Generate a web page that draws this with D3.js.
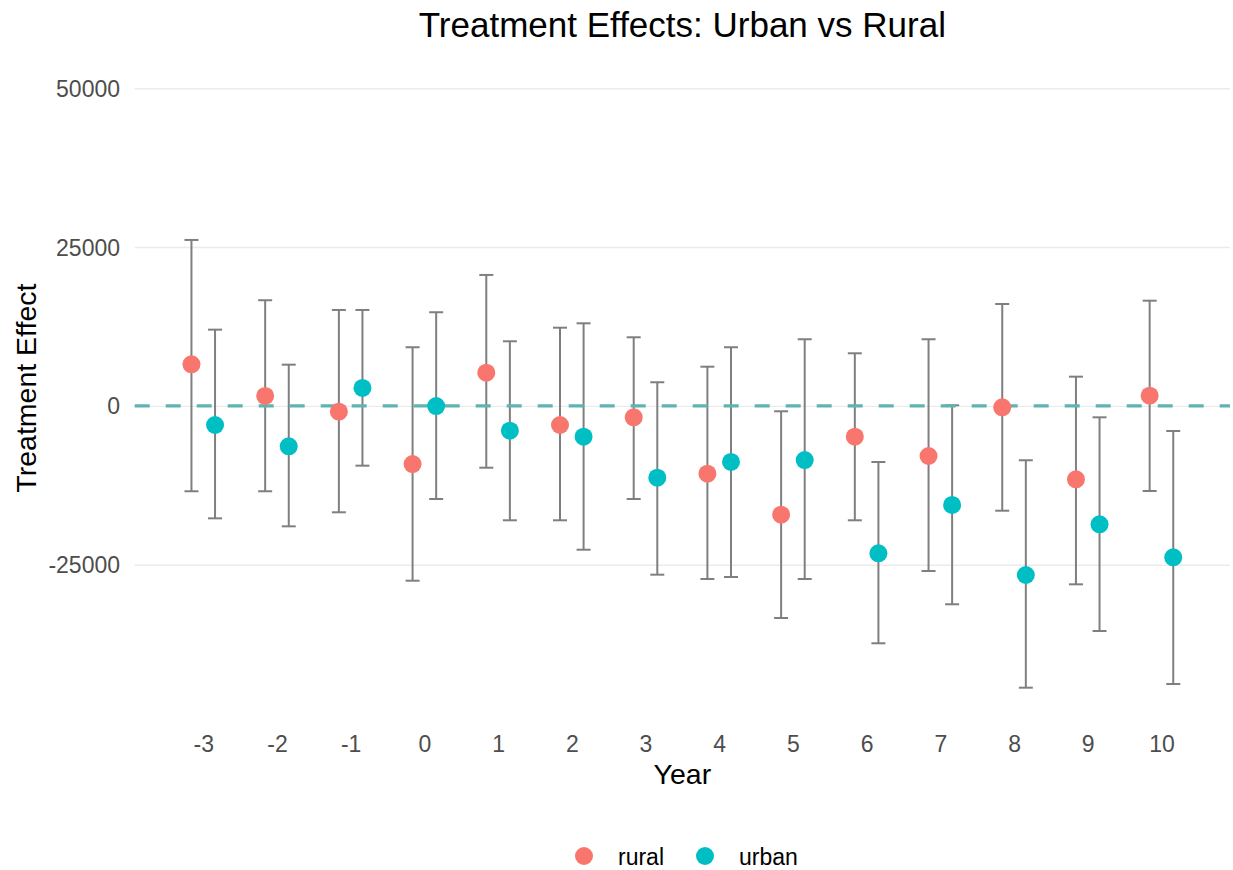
<!DOCTYPE html>
<html>
<head>
<meta charset="utf-8">
<script src="https://cdn.jsdelivr.net/npm/d3@7"></script>
<style>
  html, body { margin: 0; padding: 0; background: #ffffff; }
  svg { display: block; font-family: "Liberation Sans", Arial, sans-serif; }
</style>
</head>
<body>
<svg id="chart" width="1233" height="870"></svg>
<script>
// Event-study estimates by year, with 95% confidence bounds
const years = [-3, -2, -1, 0, 1, 2, 3, 4, 5, 6, 7, 8, 9, 10];

const ruralEst = [6550, 1560, -910, -9150, 5230, -3010, -1800, -10670, -17130, -4850, -7890, -220, -11560, 1610];
const ruralLo  = [-13440, -13440, -16750, -27520, -9730, -18010, -14660, -27250, -33390, -18010, -25990, -16500, -28090, -13400];
const ruralHi  = [26120, 16630, 15100, 9230, 20610, 12310, 10800, 6170, -850, 8280, 10490, 16040, 4600, 16560];

const urbanEst = [-3010, -6360, 2820, -20, -3900, -4850, -11300, -8830, -8520, -23210, -15600, -26620, -18640, -23840];
const urbanLo  = [-17700, -18960, -9410, -14660, -18010, -22640, -26570, -26940, -27250, -37370, -31230, -44360, -35440, -43780];
const urbanHi  = [12000, 6490, 15100, 14740, 10170, 13000, 3720, 9230, 10490, -8830, 90, -8560, -1800, -3950];

const seriesNames = ["rural", "urban"];
const seriesColors = ["#F8766D", "#00BFC4"];

const yTicks = [-25000, 0, 25000, 50000];
const yDomain = [-49100, 54700];
const xDomain = [-3.93, 10.93];

// layout
const panel = { left: 134.7, right: 1230, top: 58.4, bottom: 717.8 };
const dodge = 0.16;      // horizontal offset of each group from the year
const capHalf = 0.095;   // half width of error-bar caps, in year units
const pointR = 9;

// plain hyphen-minus labels
const plainNum = d => String(d);

const svg = d3.select("#chart");

const x = d3.scaleLinear().domain(xDomain).range([panel.left, panel.right]);
const y = d3.scaleLinear().domain(yDomain).range([panel.bottom, panel.top]);

// gridlines (horizontal only)
const yAxis = d3.axisLeft(y).tickValues(yTicks).tickFormat(plainNum)
  .tickSize(-(panel.right - panel.left)).tickPadding(14);
const gy = svg.append("g").attr("transform", `translate(${panel.left},0)`).call(yAxis);
gy.select(".domain").remove();
gy.selectAll(".tick line").attr("stroke", "#EBEBEB").attr("stroke-width", 1.4);
gy.selectAll(".tick text")
  .attr("fill", "#4D4D4D").attr("font-size", 23).attr("x", 120 - panel.left)
  .attr("text-anchor", "end").attr("dy", "0.35em");

// x axis labels
const xAxis = d3.axisBottom(x).tickValues(years).tickFormat(plainNum).tickSize(0).tickPadding(0);
const gx = svg.append("g").attr("transform", `translate(0,${panel.bottom})`).call(xAxis);
gx.select(".domain").remove();
gx.selectAll(".tick line").remove();
gx.selectAll(".tick text")
  .attr("fill", "#4D4D4D").attr("font-size", 23).attr("y", 34).attr("dy", 0);

// assemble records per series
const series = [
  { name: seriesNames[0], color: seriesColors[0], off: -dodge,
    rows: years.map((yr, i) => ({ yr, est: ruralEst[i], lo: ruralLo[i], hi: ruralHi[i] })) },
  { name: seriesNames[1], color: seriesColors[1], off: dodge,
    rows: years.map((yr, i) => ({ yr, est: urbanEst[i], lo: urbanLo[i], hi: urbanHi[i] })) }
];

// error bars
const eb = svg.append("g").attr("stroke", "#7F7F7F").attr("stroke-width", 2).attr("fill", "none");
series.forEach(s => {
  s.rows.forEach(r => {
    const cx = r.yr + s.off;
    eb.append("line").attr("x1", x(cx)).attr("x2", x(cx)).attr("y1", y(r.lo)).attr("y2", y(r.hi));
    eb.append("line").attr("x1", x(cx - capHalf)).attr("x2", x(cx + capHalf)).attr("y1", y(r.hi)).attr("y2", y(r.hi));
    eb.append("line").attr("x1", x(cx - capHalf)).attr("x2", x(cx + capHalf)).attr("y1", y(r.lo)).attr("y2", y(r.lo));
  });
});

// reference line at zero
svg.append("line")
  .attr("x1", panel.left).attr("x2", panel.right)
  .attr("y1", y(0)).attr("y2", y(0))
  .attr("stroke", "#5FB4B1").attr("stroke-width", 3.2).attr("stroke-dasharray", "15,16");

// point estimates
series.forEach(s => {
  svg.append("g").selectAll("circle").data(s.rows).join("circle")
    .attr("cx", d => x(d.yr + s.off)).attr("cy", d => y(d.est))
    .attr("r", pointR).attr("fill", s.color);
});

// titles
svg.append("text").attr("x", (panel.left + panel.right) / 2).attr("y", 37)
  .attr("text-anchor", "middle").attr("font-size", 35).attr("fill", "#000")
  .text("Treatment Effects: Urban vs Rural");

svg.append("text").attr("x", (panel.left + panel.right) / 2).attr("y", 784)
  .attr("text-anchor", "middle").attr("font-size", 28.5).attr("fill", "#000")
  .text("Year");

svg.append("text")
  .attr("transform", `translate(36,${(panel.top + panel.bottom) / 2}) rotate(-90)`)
  .attr("text-anchor", "middle").attr("font-size", 28.5).attr("fill", "#000")
  .text("Treatment Effect");

// legend
const legendX = [584, 705];
const leg = svg.append("g");
seriesNames.forEach((name, i) => {
  leg.append("circle").attr("cx", legendX[i]).attr("cy", 856).attr("r", pointR).attr("fill", seriesColors[i]);
  leg.append("text").attr("x", legendX[i] + 34).attr("y", 865)
    .attr("font-size", 23).attr("fill", "#000").text(name);
});
</script>
</body>
</html>
